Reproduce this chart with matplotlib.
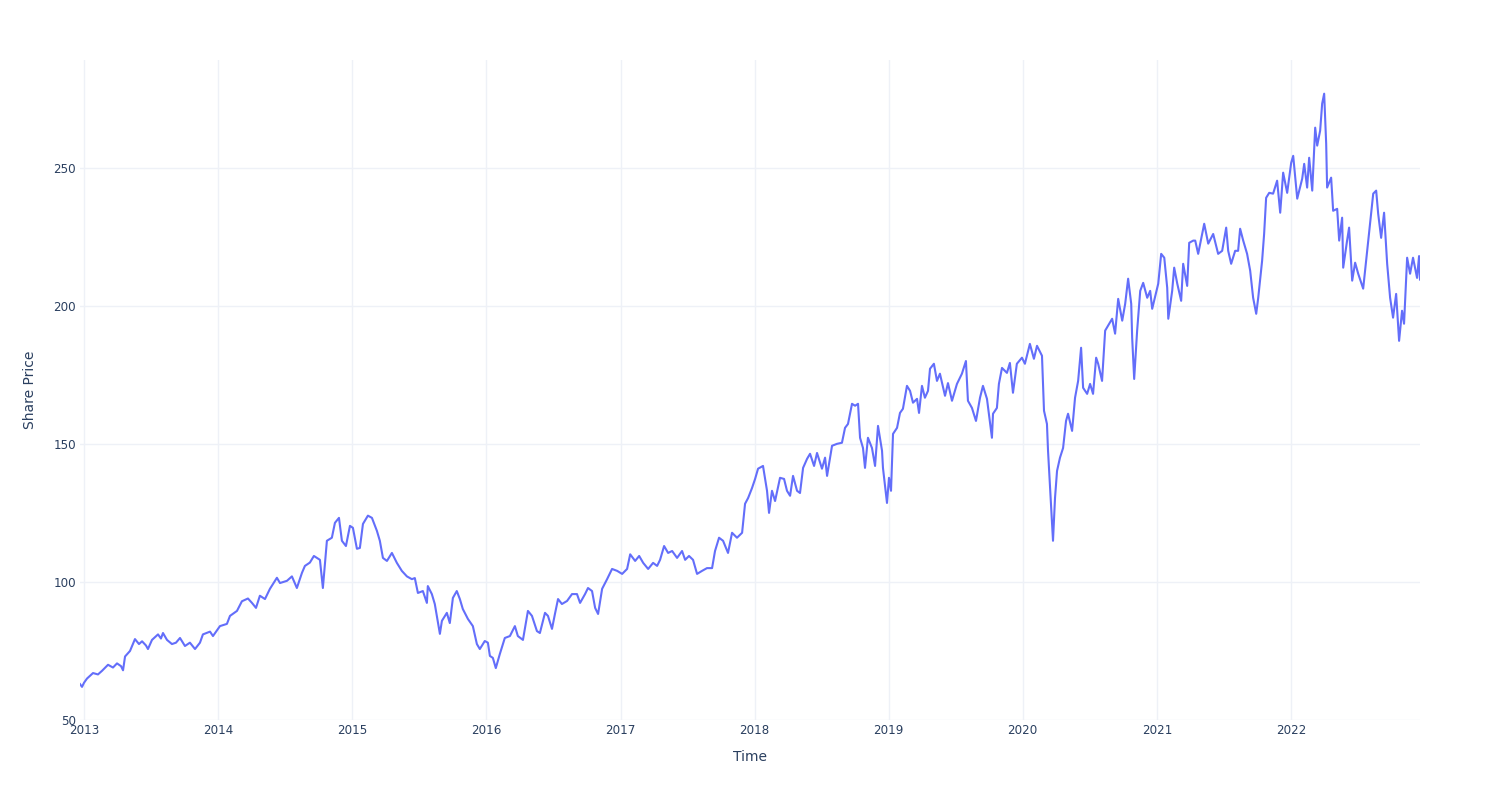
import numpy as np
import pandas as pd
import matplotlib
matplotlib.use("Agg")
import matplotlib.pyplot as plt
import matplotlib.dates as mdates

# ---------------------------------------------------------------------------
# Data: share price (decimal year, price)
# ---------------------------------------------------------------------------
t_2013_2015 = [
    2012.970, 2012.985, 2013.000, 2013.022, 2013.067, 2013.104, 2013.134, 2013.179,
    2013.216, 2013.246, 2013.276, 2013.291, 2013.306, 2013.343, 2013.380, 2013.410,
    2013.433, 2013.462, 2013.477, 2013.507, 2013.552, 2013.574, 2013.589, 2013.619,
    2013.656, 2013.686, 2013.716, 2013.753, 2013.790, 2013.828, 2013.865, 2013.887,
    2013.940, 2013.962, 2014.014, 2014.066, 2014.089, 2014.141, 2014.178, 2014.223,
    2014.253, 2014.283, 2014.312, 2014.350, 2014.387, 2014.439, 2014.462, 2014.514,
    2014.551, 2014.588, 2014.626, 2014.648, 2014.685, 2014.715, 2014.738, 2014.760,
    2014.782, 2014.812, 2014.849, 2014.872, 2014.902, 2014.924, 2014.954, 2014.984,
]
p_2013_2015 = [
    63.0, 62.0, 63.5, 65.0, 67.0, 66.5, 67.8, 70.0,
    69.0, 70.5, 69.5, 68.0, 73.0, 75.0, 79.3, 77.5,
    78.5, 77.0, 75.7, 79.0, 81.0, 79.5, 81.5, 79.0,
    77.5, 78.0, 79.7, 76.8, 78.0, 75.7, 78.0, 81.0,
    82.0, 80.4, 84.0, 84.8, 87.7, 89.5, 93.0, 94.0,
    92.4, 90.6, 95.0, 93.8, 97.5, 101.5, 99.6, 100.4,
    102.0, 97.8, 103.3, 105.8, 107.0, 109.4, 108.7, 108.0,
    97.8, 114.9, 116.0, 121.4, 123.2, 114.9, 113.0, 120.3,
]

t_2015_2017 = [
    2015.006, 2015.036, 2015.058, 2015.081, 2015.118, 2015.148, 2015.185, 2015.207,
    2015.230, 2015.260, 2015.297, 2015.334, 2015.371, 2015.409, 2015.446, 2015.468,
    2015.491, 2015.528, 2015.558, 2015.565, 2015.595, 2015.617, 2015.655, 2015.670,
    2015.707, 2015.729, 2015.752, 2015.781, 2015.804, 2015.826, 2015.864, 2015.901,
    2015.931, 2015.953, 2015.990, 2016.013, 2016.028, 2016.050, 2016.072, 2016.102,
    2016.139, 2016.177, 2016.214, 2016.236, 2016.274, 2016.311, 2016.341, 2016.378,
    2016.400, 2016.438, 2016.460, 2016.490, 2016.512, 2016.535, 2016.564, 2016.602,
    2016.639, 2016.676, 2016.699, 2016.736, 2016.758, 2016.788, 2016.811, 2016.833,
    2016.863, 2016.900, 2016.937, 2016.975,
]
p_2015_2017 = [
    119.6, 112.0, 112.3, 121.0, 124.0, 123.2, 118.5, 114.9,
    108.7, 107.6, 110.5, 106.9, 104.0, 102.0, 101.0, 101.4,
    96.0, 96.7, 92.4, 98.5, 95.6, 92.0, 81.2, 85.9,
    88.8, 85.1, 94.2, 96.7, 93.8, 90.2, 86.6, 84.0,
    77.5, 75.7, 78.6, 78.0, 73.2, 72.5, 68.8, 73.9,
    79.7, 80.4, 84.0, 80.4, 79.0, 89.5, 87.7, 82.2,
    81.5, 88.8, 87.7, 83.0, 88.4, 93.8, 92.0, 93.1,
    95.6, 95.6, 92.4, 95.6, 97.8, 96.7, 90.6, 88.4,
    97.5, 101.0, 104.7, 104.0,
]

t_2017_2019 = [
    2017.012, 2017.049, 2017.072, 2017.109, 2017.139, 2017.169, 2017.206, 2017.243,
    2017.273, 2017.295, 2017.325, 2017.355, 2017.385, 2017.422, 2017.459, 2017.482,
    2017.511, 2017.541, 2017.571, 2017.608, 2017.645, 2017.683, 2017.705, 2017.735,
    2017.765, 2017.802, 2017.832, 2017.869, 2017.907, 2017.929, 2017.952, 2017.981,
    2018.004, 2018.026, 2018.063, 2018.093, 2018.108, 2018.130, 2018.153, 2018.190,
    2018.220, 2018.242, 2018.265, 2018.287, 2018.317, 2018.339, 2018.362, 2018.392,
    2018.414, 2018.444, 2018.466, 2018.503, 2018.526, 2018.541, 2018.578, 2018.615,
    2018.652, 2018.675, 2018.697, 2018.727, 2018.750, 2018.772, 2018.787, 2018.809,
    2018.824, 2018.846, 2018.876, 2018.899, 2018.921, 2018.951, 2018.958, 2018.988,
]
p_2017_2019 = [
    102.9, 104.7, 110.0, 107.6, 109.4, 106.9, 104.7, 106.9,
    105.8, 108.0, 113.0, 110.5, 111.2, 108.7, 111.2, 108.0,
    109.4, 108.0, 102.9, 104.0, 105.0, 105.0, 111.2, 116.0,
    114.9, 110.5, 117.8, 116.0, 117.8, 128.3, 130.4, 134.0,
    137.3, 141.0, 142.0, 133.0, 125.0, 133.0, 129.3, 137.7,
    137.3, 133.0, 131.2, 138.4, 133.0, 132.2, 141.3, 144.6,
    146.4, 142.0, 146.7, 141.0, 145.0, 138.4, 149.3, 150.0,
    150.4, 155.8, 157.2, 164.5, 163.8, 164.5, 152.2, 148.5,
    141.3, 152.2, 148.5, 142.0, 156.5, 147.5, 141.3, 128.6,
]

t_2019_2021 = [
    2019.003, 2019.018, 2019.033, 2019.063, 2019.085, 2019.107, 2019.137, 2019.160,
    2019.182, 2019.212, 2019.227, 2019.249, 2019.271, 2019.294, 2019.309, 2019.338,
    2019.361, 2019.383, 2019.421, 2019.443, 2019.473, 2019.510, 2019.547, 2019.577,
    2019.592, 2019.622, 2019.652, 2019.682, 2019.704, 2019.734, 2019.771, 2019.779,
    2019.808, 2019.823, 2019.846, 2019.883, 2019.905, 2019.928, 2019.957, 2019.995,
    2020.017, 2020.054, 2020.084, 2020.107, 2020.144, 2020.159, 2020.181, 2020.189,
    2020.204, 2020.226, 2020.241, 2020.256, 2020.278, 2020.301, 2020.323, 2020.338,
    2020.368, 2020.390, 2020.413, 2020.435, 2020.450, 2020.480, 2020.502, 2020.524,
    2020.547, 2020.562, 2020.591, 2020.614, 2020.636, 2020.666, 2020.688, 2020.711,
    2020.741, 2020.763, 2020.785, 2020.808, 2020.815, 2020.830, 2020.852, 2020.875,
    2020.897, 2020.927, 2020.949, 2020.964, 2020.987,
]
p_2019_2021 = [
    137.7, 133.0, 153.6, 155.8, 161.2, 162.7, 171.0, 169.2,
    164.9, 166.3, 161.2, 171.0, 166.7, 169.2, 177.2, 179.0,
    172.8, 175.4, 167.4, 172.0, 165.6, 171.7, 175.4, 180.0,
    165.6, 163.0, 158.3, 166.7, 171.0, 166.3, 152.2, 160.9,
    163.0, 171.7, 177.5, 175.7, 179.3, 168.5, 179.0, 181.2,
    179.0, 186.2, 180.8, 185.5, 181.9, 162.0, 157.2, 147.5,
    134.0, 114.9, 130.4, 140.2, 145.0, 148.5, 158.3, 160.9,
    154.7, 166.7, 172.8, 184.8, 170.3, 168.1, 171.7, 168.1,
    181.2, 179.0, 172.8, 191.0, 192.8, 195.3, 189.9, 202.5,
    194.6, 200.7, 209.8, 200.7, 188.4, 173.5, 191.0, 205.4,
    208.3, 202.9, 205.4, 198.9, 203.6,
]

t_2021_2023 = [
    2021.009, 2021.031, 2021.054, 2021.076, 2021.084, 2021.113, 2021.128, 2021.151,
    2021.180, 2021.195, 2021.225, 2021.240, 2021.270, 2021.285, 2021.307, 2021.337,
    2021.352, 2021.382, 2021.419, 2021.456, 2021.486, 2021.516, 2021.531, 2021.553,
    2021.583, 2021.605, 2021.620, 2021.643, 2021.672, 2021.695, 2021.717, 2021.740,
    2021.755, 2021.784, 2021.799, 2021.814, 2021.837, 2021.866, 2021.896, 2021.919,
    2021.941, 2021.971, 2022.001, 2022.016, 2022.046, 2022.083, 2022.098, 2022.120,
    2022.135, 2022.158, 2022.180, 2022.195, 2022.217, 2022.232, 2022.247, 2022.262,
    2022.269, 2022.299, 2022.314, 2022.344, 2022.359, 2022.381, 2022.389, 2022.418,
    2022.433, 2022.456, 2022.478, 2022.501, 2022.538, 2022.560, 2022.583, 2022.613,
    2022.635, 2022.650, 2022.672, 2022.694, 2022.717, 2022.739, 2022.761, 2022.784,
    2022.806, 2022.828, 2022.843, 2022.866, 2022.888, 2022.910, 2022.940, 2022.955,
    2022.962,
]
p_2021_2023 = [
    208.0, 218.8, 217.4, 206.5, 195.3, 205.4, 213.8, 208.0,
    201.8, 215.2, 207.2, 222.8, 223.6, 223.6, 218.8, 226.0,
    229.7, 222.5, 226.0, 218.8, 219.9, 228.3, 219.9, 215.2,
    219.9, 219.9, 227.9, 223.6, 218.8, 212.7, 202.9, 197.1,
    202.9, 216.3, 226.0, 239.1, 240.9, 240.6, 245.3, 233.7,
    248.2, 240.9, 251.8, 254.3, 238.8, 246.0, 251.4, 242.8,
    253.6, 241.7, 264.5, 258.0, 263.4, 273.2, 276.8, 258.7,
    242.8, 246.4, 234.4, 235.1, 223.6, 231.9, 213.8, 223.6,
    228.3, 209.1, 215.6, 211.6, 206.2, 216.3, 227.2, 240.6,
    241.7, 233.3, 224.6, 233.7, 215.2, 202.9, 195.7, 204.3,
    187.3, 198.2, 193.5, 217.4, 211.6, 217.4, 210.1, 218.0,
    209.5,
]

year_ticks = list(range(2013, 2023))
price_ticks = [50, 100, 150, 200, 250]

# ---------------------------------------------------------------------------
# Build the series
# ---------------------------------------------------------------------------
t = np.array(t_2013_2015 + t_2015_2017 + t_2017_2019 + t_2019_2021 + t_2021_2023)
price = np.array(p_2013_2015 + p_2015_2017 + p_2017_2019 + p_2019_2021 + p_2021_2023)


def to_date(x):
    yr = int(np.floor(x))
    start = pd.Timestamp(yr, 1, 1)
    days = (pd.Timestamp(yr + 1, 1, 1) - start).days
    return start + pd.Timedelta(days=(x - yr) * days)


dates = pd.to_datetime([to_date(x) for x in t])

# ---------------------------------------------------------------------------
# Plot (plotly_white look)
# ---------------------------------------------------------------------------
LINE = "#636efa"
GRID = "#eef1f7"
TEXT = "#2a3f5f"

fig = plt.figure(figsize=(15, 8), dpi=100)
ax = fig.add_axes([80 / 1500, 80 / 800, 1340 / 1500, 660 / 800])

ax.plot(dates, price, color=LINE, linewidth=1.5, solid_joinstyle="round")

ax.set_xlim(dates[0], dates[-1])
ax.set_ylim(50, 289)

ax.set_xticks([pd.Timestamp(y, 1, 1) for y in year_ticks])
ax.xaxis.set_major_formatter(mdates.DateFormatter("%Y"))
ax.set_yticks(price_ticks)

ax.grid(True, color=GRID, linewidth=1)
ax.set_axisbelow(True)
for s in ax.spines.values():
    s.set_visible(False)
ax.tick_params(length=0, labelsize=8.6, labelcolor=TEXT)
ax.tick_params(axis="x", pad=3)
ax.tick_params(axis="y", pad=3)

ax.set_xlabel("Time", fontsize=10, color=TEXT, labelpad=9)
ax.set_ylabel("Share Price", fontsize=10, color=TEXT, labelpad=12)

plt.savefig("out.png", dpi=100)
plt.close()
